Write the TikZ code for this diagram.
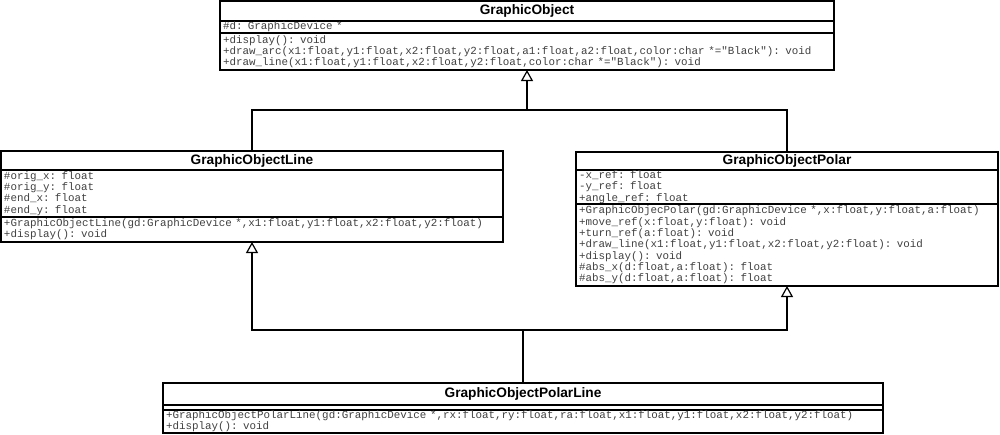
\documentclass[tikz,border=0pt]{standalone}
\usepackage{fontspec}
\newfontfamily\umlsans{Liberation Sans}
\newfontfamily\umlmono{Liberation Mono}
\usetikzlibrary{arrows.meta,positioning}
\tikzset{
  umlbox/.style={draw,line width=1.2pt,outer sep=0pt,inner xsep=3pt,inner ysep=0pt},
  umlname/.style={umlbox,anchor=north west,align=center,
                  font=\umlsans\bfseries\fontsize{13.7}{15}\selectfont},
  umlpart/.style={umlbox,align=left,text=black!75,
                  font=\umlmono\fontsize{10.85}{11.3}\selectfont},
  umlline/.style={line width=1.2pt},
  umlgen/.style={umlline,-{Triangle[open,length=11pt,width=12pt,line width=1.2pt]}},
}
\begin{document}
\begin{tikzpicture}[x=1pt,y=-1pt]
  \useasboundingbox (0,0) rectangle (1000,434);
  % base class
  \node[umlname,minimum width=614pt,minimum height=20pt] (goName) at (220,1) {GraphicObject};
  \node[umlpart,text width=608pt,minimum height=12pt,below=0pt of goName] (goAttr)
    {\#d: GraphicDevice *};
  \node[umlpart,text width=608pt,minimum height=37pt,below=0pt of goAttr] (goMeth)
    {+display(): void\\
     +draw\_arc(x1:float,y1:float,x2:float,y2:float,a1:float,a2:float,color:char *="Black"): void\\
     +draw\_line(x1:float,y1:float,x2:float,y2:float,color:char *="Black"): void};
  % GraphicObjectLine
  \node[umlname,minimum width=502pt,minimum height=19pt] (lineName) at (1,151) {GraphicObjectLine};
  \node[umlpart,text width=496pt,minimum height=47pt,below=0pt of lineName] (lineAttr)
    {\#orig\_x: float\\ \#orig\_y: float\\ \#end\_x: float\\ \#end\_y: float};
  \node[umlpart,text width=496pt,minimum height=25pt,below=0pt of lineAttr] (lineMeth)
    {+GraphicObjectLine(gd:GraphicDevice *,x1:float,y1:float,x2:float,y2:float)\\
     +display(): void};
  % GraphicObjectPolar
  \node[umlname,minimum width=422pt,minimum height=18pt] (polName) at (576,152) {GraphicObjectPolar};
  \node[umlpart,text width=416pt,minimum height=34pt,below=0pt of polName] (polAttr)
    {-x\_ref: float\\ -y\_ref: float\\ +angle\_ref: float};
  \node[umlpart,text width=416pt,minimum height=82pt,below=0pt of polAttr] (polMeth)
    {+GraphicObjecPolar(gd:GraphicDevice *,x:float,y:float,a:float)\\
     +move\_ref(x:float,y:float): void\\
     +turn\_ref(a:float): void\\
     +draw\_line(x1:float,y1:float,x2:float,y2:float): void\\
     +display(): void\\
     \#abs\_x(d:float,a:float): float\\
     \#abs\_y(d:float,a:float): float};
  % GraphicObjectPolarLine
  \node[umlname,minimum width=720pt,minimum height=22pt] (plName) at (163,383) {GraphicObjectPolarLine};
  \node[umlpart,text width=714pt,minimum height=5pt,below=0pt of plName] (plAttr) {};
  \node[umlpart,text width=714pt,minimum height=23pt,below=0pt of plAttr] (plMeth)
    {+GraphicObjectPolarLine(gd:GraphicDevice *,rx:float,ry:float,ra:float,x1:float,y1:float,x2:float,y2:float)\\
     +display(): void};
  % generalisation links
  \coordinate (topBus) at (0,110);
  \coordinate (lowBus) at (0,330);
  \draw[umlline] (lineName.north) |- (topBus -| polName.north) -- (polName.north);
  \draw[umlgen] (goMeth.south |- topBus) -- (goMeth.south);
  \draw[umlgen] (plName.north) |- (lineMeth.south |- lowBus) -- (lineMeth.south);
  \draw[umlgen] (plName.north |- lowBus) -| (polMeth.south);
\end{tikzpicture}
\end{document}
